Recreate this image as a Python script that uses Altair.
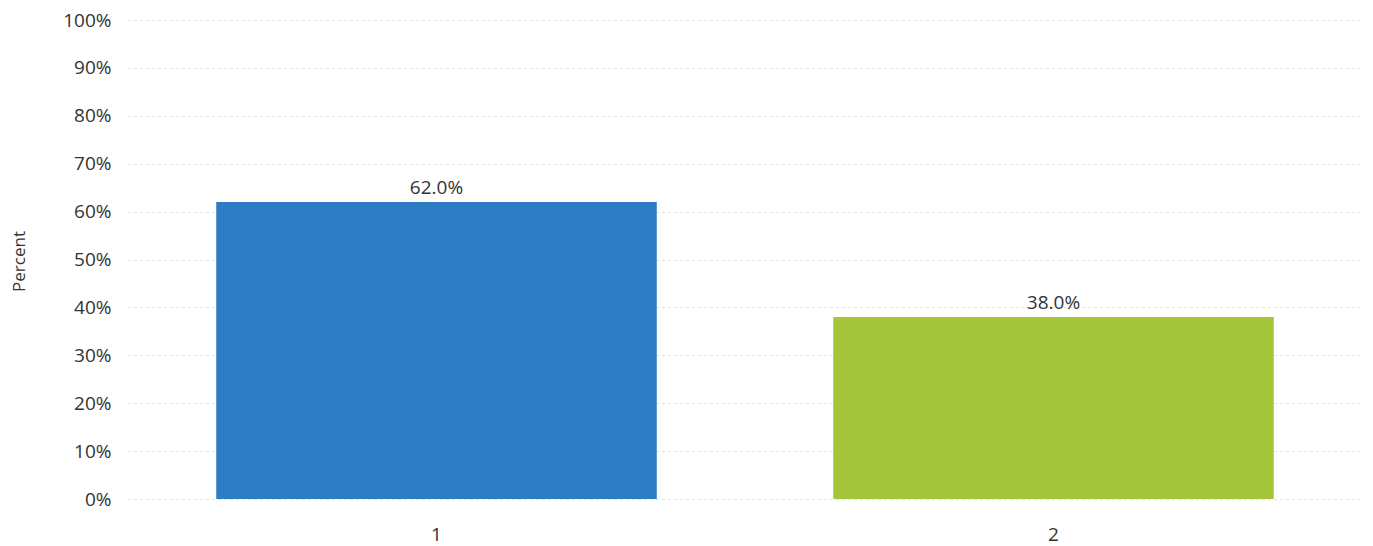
import altair as alt
import pandas as pd

categories = ["1", "2"]
values = [0.62, 0.38]
colors = ["#2E7CC4", "#A5C63B"]

df = pd.DataFrame({"cat": categories, "value": values, "color": colors})

base = alt.Chart(df).encode(
    x=alt.X("cat:N", sort=categories, title=None,
            scale=alt.Scale(paddingInner=0.286, paddingOuter=0.143),
            axis=alt.Axis(labelAngle=0, domain=False, ticks=False, labelPadding=26,
                          labelFontSize=19, labelColor="#333", grid=False)),
    y=alt.Y("value:Q", title="Percent",
            scale=alt.Scale(domain=[0, 1]),
            axis=alt.Axis(format=".0%", values=[i / 10 for i in range(11)],
                          domain=False, ticks=False, labelPadding=17,
                          labelFontSize=19, labelColor="#333",
                          titleFontSize=17, titleFontWeight="normal", titleColor="#333",
                          titleX=-100, titleY=241, titleAngle=-90,
                          gridColor="#d6d6d6", gridDash=[2, 4], gridWidth=1)),
)

bars = base.mark_bar().encode(color=alt.Color("color:N", scale=None))
labels = base.mark_text(dy=-14, fontSize=19, color="#333").encode(
    text=alt.Text("value:Q", format=".1%"))

chart = (bars + labels).properties(
    width=1234, height=479,
    autosize=alt.AutoSizeParams(type="none"),
    padding={"left": 120, "top": 12, "right": 3, "bottom": 47},
).configure(font="Open Sans").configure_view(stroke=None)

chart.save("out.html", embed_options={"renderer": "svg", "actions": False})
